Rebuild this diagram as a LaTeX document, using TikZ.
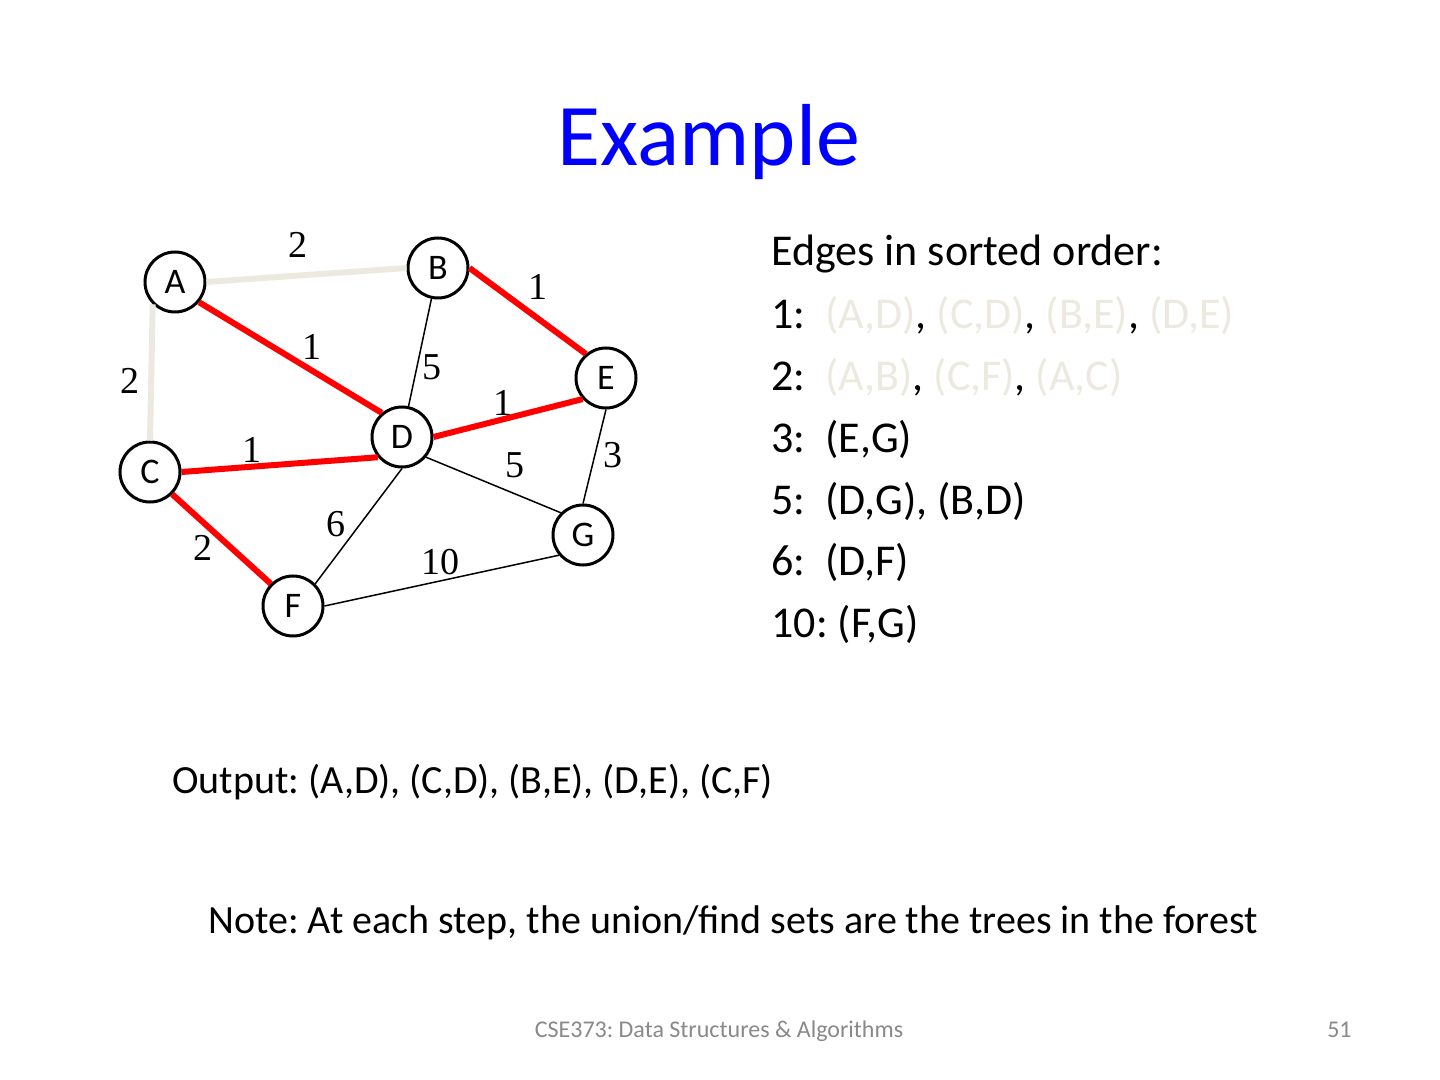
\documentclass[tikz,border=0pt]{standalone}
\usepackage{fontspec}
\setmainfont{Carlito}
\newfontfamily\weightfont{Liberation Serif}
\usetikzlibrary{positioning}
\frenchspacing
\definecolor{titleblue}{RGB}{0,0,255}
\definecolor{pale}{RGB}{236,234,224}
\definecolor{footgray}{RGB}{137,137,137}
\tikzset{
x=0.5pt, y=-0.5pt, % one unit is one pixel of the slide
vertex/.style={circle, draw, line width=1.5pt, minimum size=30pt, inner sep=0pt, fill=white, font=\fontsize{18}{18}\selectfont}, % graph nodes
tree/.style={draw=red, line width=3pt}, % edges taken
unused/.style={draw=pale, line width=3pt}, % edges skipped
plain/.style={draw=black, line width=0.75pt}, % edges not yet looked at
weight/.style={font=\weightfont\fontsize{19}{19}\selectfont, inner sep=0pt},
listline/.style={anchor=base west, inner sep=0pt, font=\fontsize{22}{26}\selectfont},
}
\newcommand{\skipped}[1]{\textcolor{pale}{#1}}

\begin{document}
\begin{tikzpicture}
  \fill[white] (0,0) rectangle (1440,1080);
  \useasboundingbox (0,0) rectangle (1440,1080);

  \node[anchor=base, text=titleblue, inner sep=0pt, font=\fontsize{44}{44}\selectfont] (title) at (709,166) {Example};

  \node[vertex] (A) at (175,282) {A};
  \node[vertex] (B) at (438,268) {B};
  \node[vertex] (C) at (150,472) {C};
  \node[vertex] (D) at (402,437) {D};
  \node[vertex] (E) at (606,378) {E};
  \node[vertex] (F) at (293,606) {F};
  \node[vertex] (G) at (583,535) {G};

  \draw[unused] (A.east) -- (B.west);
  \draw[unused] (A.-135) -- (C.north);
  \draw[tree] (A.-40) -- (D.130);
  \draw[tree] (B.east) -- (E.130);
  \draw[tree] (D.east) -- (E.-138);
  \draw[tree] (C.east) -- (D.-140);
  \draw[tree] (C.-45) -- (F.135);
  \draw[plain] (B) -- (D);
  \draw[plain] (D.-40) -- (G.135);
  \draw[plain] (E.south) -- (G.north);
  \draw[plain] (D.south) -- (F.45);
  \draw[plain] (F.east) -- (G.-140);

  \node[weight] (wAB) at (298,245) {2};
  \node[weight] (wBE) at (538,287) {1};
  \node[weight] (wAD) at (312,347) {1};
  \node[weight] (wBD) at (432,367) {5};
  \node[weight] (wAC) at (130,381) {2};
  \node[weight] (wDE) at (503,403) {1};
  \node[weight] (wCD) at (252,450) {1};
  \node[weight] (wEG) at (613,455) {3};
  \node[weight] (wDG) at (515,465) {5};
  \node[weight] (wDF) at (336,524) {6};
  \node[weight] (wCF) at (203,548) {2};
  \node[weight] (wFG) at (440,562) {10};

  \node[listline] (head) at (771,266) {Edges in sorted order:};
  \node[listline] (w1) at (771,329) {1:~~\skipped{(A,D)}, \skipped{(C,D)}, \skipped{(B,E)}, \skipped{(D,E)}};
  \node[listline] (w2) at (771,391) {2:~~\skipped{(A,B)}, \skipped{(C,F)}, \skipped{(A,C)}};
  \node[listline] (w3) at (771,452) {3:~~(E,G)};
  \node[listline] (w5) at (771,514) {5:~~(D,G), (B,D)};
  \node[listline] (w6) at (771,575) {6:~~(D,F)};
  \node[listline] (w10) at (771,637) {10: (F,G)};

  \node[listline, font=\fontsize{20}{24}\selectfont] (output) at (172,793) {Output: (A,D), (C,D), (B,E), (D,E), (C,F)};
  \node[anchor=base, inner sep=0pt, font=\fontsize{20}{24}\selectfont] (note) at (733,933) {Note: At each step, the union/find sets are the trees in the forest};

  \node[anchor=base, inner sep=0pt, text=footgray, font=\fontsize{12}{12}\selectfont] (footer) at (719,1037) {CSE373: Data Structures \& Algorithms};
  \node[anchor=base east, inner sep=0pt, text=footgray, font=\fontsize{12}{12}\selectfont] (page) at (1352,1037) {51};
\end{tikzpicture}
\end{document}
